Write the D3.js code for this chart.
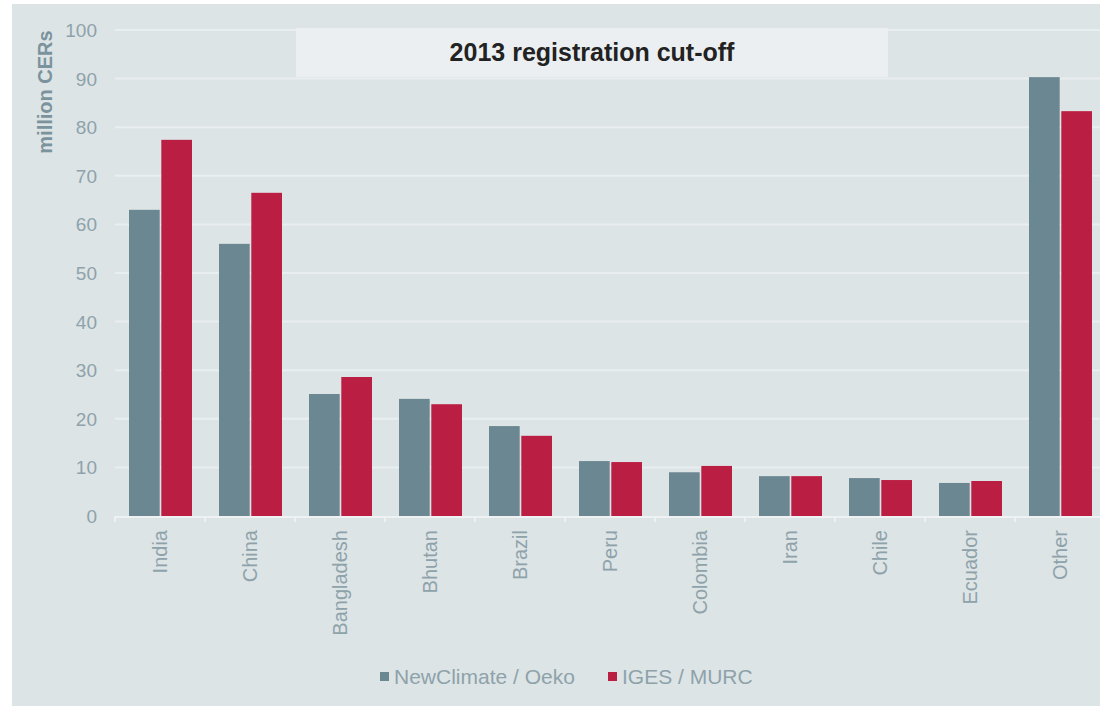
<!DOCTYPE html>
<html>
<head>
  <meta charset="utf-8" />
  <script src="https://d3js.org/d3.v7.min.js"></script>
  <style>
    body { margin: 0; background: #fff; }
    svg { display: block; font-family: "Liberation Sans", Arial, sans-serif; }
  </style>
</head>
<body>
<div id="chart"></div>
<script>
  const countries = ["India", "China", "Bangladesh", "Bhutan", "Brazil", "Peru", "Colombia", "Iran", "Chile", "Ecuador", "Other"];
  const series = ["NewClimate / Oeko", "IGES / MURC"];
  const newClimate = [63, 56, 25.1, 24.1, 18.5, 11.3, 9.0, 8.2, 7.8, 6.8, 90.3];
  const iges = [77.4, 66.5, 28.6, 23.0, 16.5, 11.1, 10.3, 8.2, 7.4, 7.2, 83.3];
  const yTicks = [0, 10, 20, 30, 40, 50, 60, 70, 80, 90, 100];
  const colors = ["#6b8791", "#bb1e43"];

  const width = 1100, height = 709;
  const textColor = "#8ea2aa";
  const svg = d3.select("#chart").append("svg")
    .attr("width", width)
    .attr("height", height);

  // panel background
  svg.append("rect")
    .attr("x", 12).attr("y", 4)
    .attr("width", width - 12).attr("height", 702)
    .attr("fill", "#dde4e6");

  const x = d3.scaleBand().domain(countries).range([115, 1105]);
  const xs = d3.scaleBand().domain(series).range([14, 77]).paddingInner(0.05);
  const y = d3.scaleLinear().domain([0, 100]).range([516, 30]);

  // gridlines
  svg.append("g").selectAll("line")
    .data(yTicks.filter(d => d > 0))
    .enter().append("line")
    .attr("x1", 115).attr("x2", width)
    .attr("y1", d => y(d)).attr("y2", d => y(d))
    .attr("stroke", "#e9eef0").attr("stroke-width", 2);

  // title box
  svg.append("rect")
    .attr("x", 296).attr("y", 28)
    .attr("width", 592).attr("height", 49)
    .attr("fill", "#ebeff1");
  svg.append("text")
    .attr("x", 592).attr("y", 61)
    .attr("text-anchor", "middle")
    .attr("font-size", 25).attr("font-weight", "bold")
    .attr("fill", "#222")
    .text("2013 registration cut-off");

  // y axis labels
  svg.append("g").selectAll("text")
    .data(yTicks)
    .enter().append("text")
    .attr("x", 97).attr("y", d => y(d) + 7)
    .attr("text-anchor", "end")
    .attr("font-size", 19)
    .attr("fill", textColor)
    .text(d => d);

  svg.append("text")
    .attr("transform", "translate(52,92) rotate(-90)")
    .attr("text-anchor", "middle")
    .attr("font-size", 20).attr("font-weight", "bold")
    .attr("fill", "#7b939c")
    .text("million CERs");

  // bars
  const rows = countries.map((c, i) => ({ c, vals: [newClimate[i], iges[i]] }));
  const grp = svg.append("g").selectAll("g")
    .data(rows)
    .enter().append("g")
    .attr("transform", d => `translate(${x(d.c)},0)`);
  grp.selectAll("rect")
    .data(d => d.vals.map((v, j) => ({ s: series[j], v, j })))
    .enter().append("rect")
    .attr("x", d => xs(d.s))
    .attr("width", xs.bandwidth())
    .attr("y", d => y(d.v))
    .attr("height", d => y(0) - y(d.v))
    .attr("fill", d => colors[d.j]);

  // x axis
  const xAxis = svg.append("g");
  xAxis.append("line")
    .attr("x1", 115).attr("x2", width)
    .attr("y1", y(0) + 1).attr("y2", y(0) + 1)
    .attr("stroke", "#eef2f3").attr("stroke-width", 2);
  xAxis.selectAll("line.tick")
    .data(countries)
    .enter().append("line")
    .attr("class", "tick")
    .attr("x1", d => x(d)).attr("x2", d => x(d))
    .attr("y1", y(0)).attr("y2", y(0) + 6)
    .attr("stroke", "#eef2f3").attr("stroke-width", 2);
  xAxis.selectAll("text")
    .data(countries)
    .enter().append("text")
    .attr("transform", d => `translate(${x(d) + x.bandwidth() / 2 + 7},530) rotate(-90)`)
    .attr("text-anchor", "end")
    .attr("font-size", 20)
    .attr("fill", textColor)
    .text(d => d);

  // legend
  const legendPos = [380, 608];
  const legend = svg.append("g").selectAll("g")
    .data(series)
    .enter().append("g")
    .attr("transform", (d, i) => `translate(${legendPos[i]},672)`);
  legend.append("rect")
    .attr("width", 9).attr("height", 9)
    .attr("fill", (d, i) => colors[i]);
  legend.append("text")
    .attr("x", 14).attr("y", 12)
    .attr("font-size", 21)
    .attr("fill", textColor)
    .text(d => d);
</script>
</body>
</html>
